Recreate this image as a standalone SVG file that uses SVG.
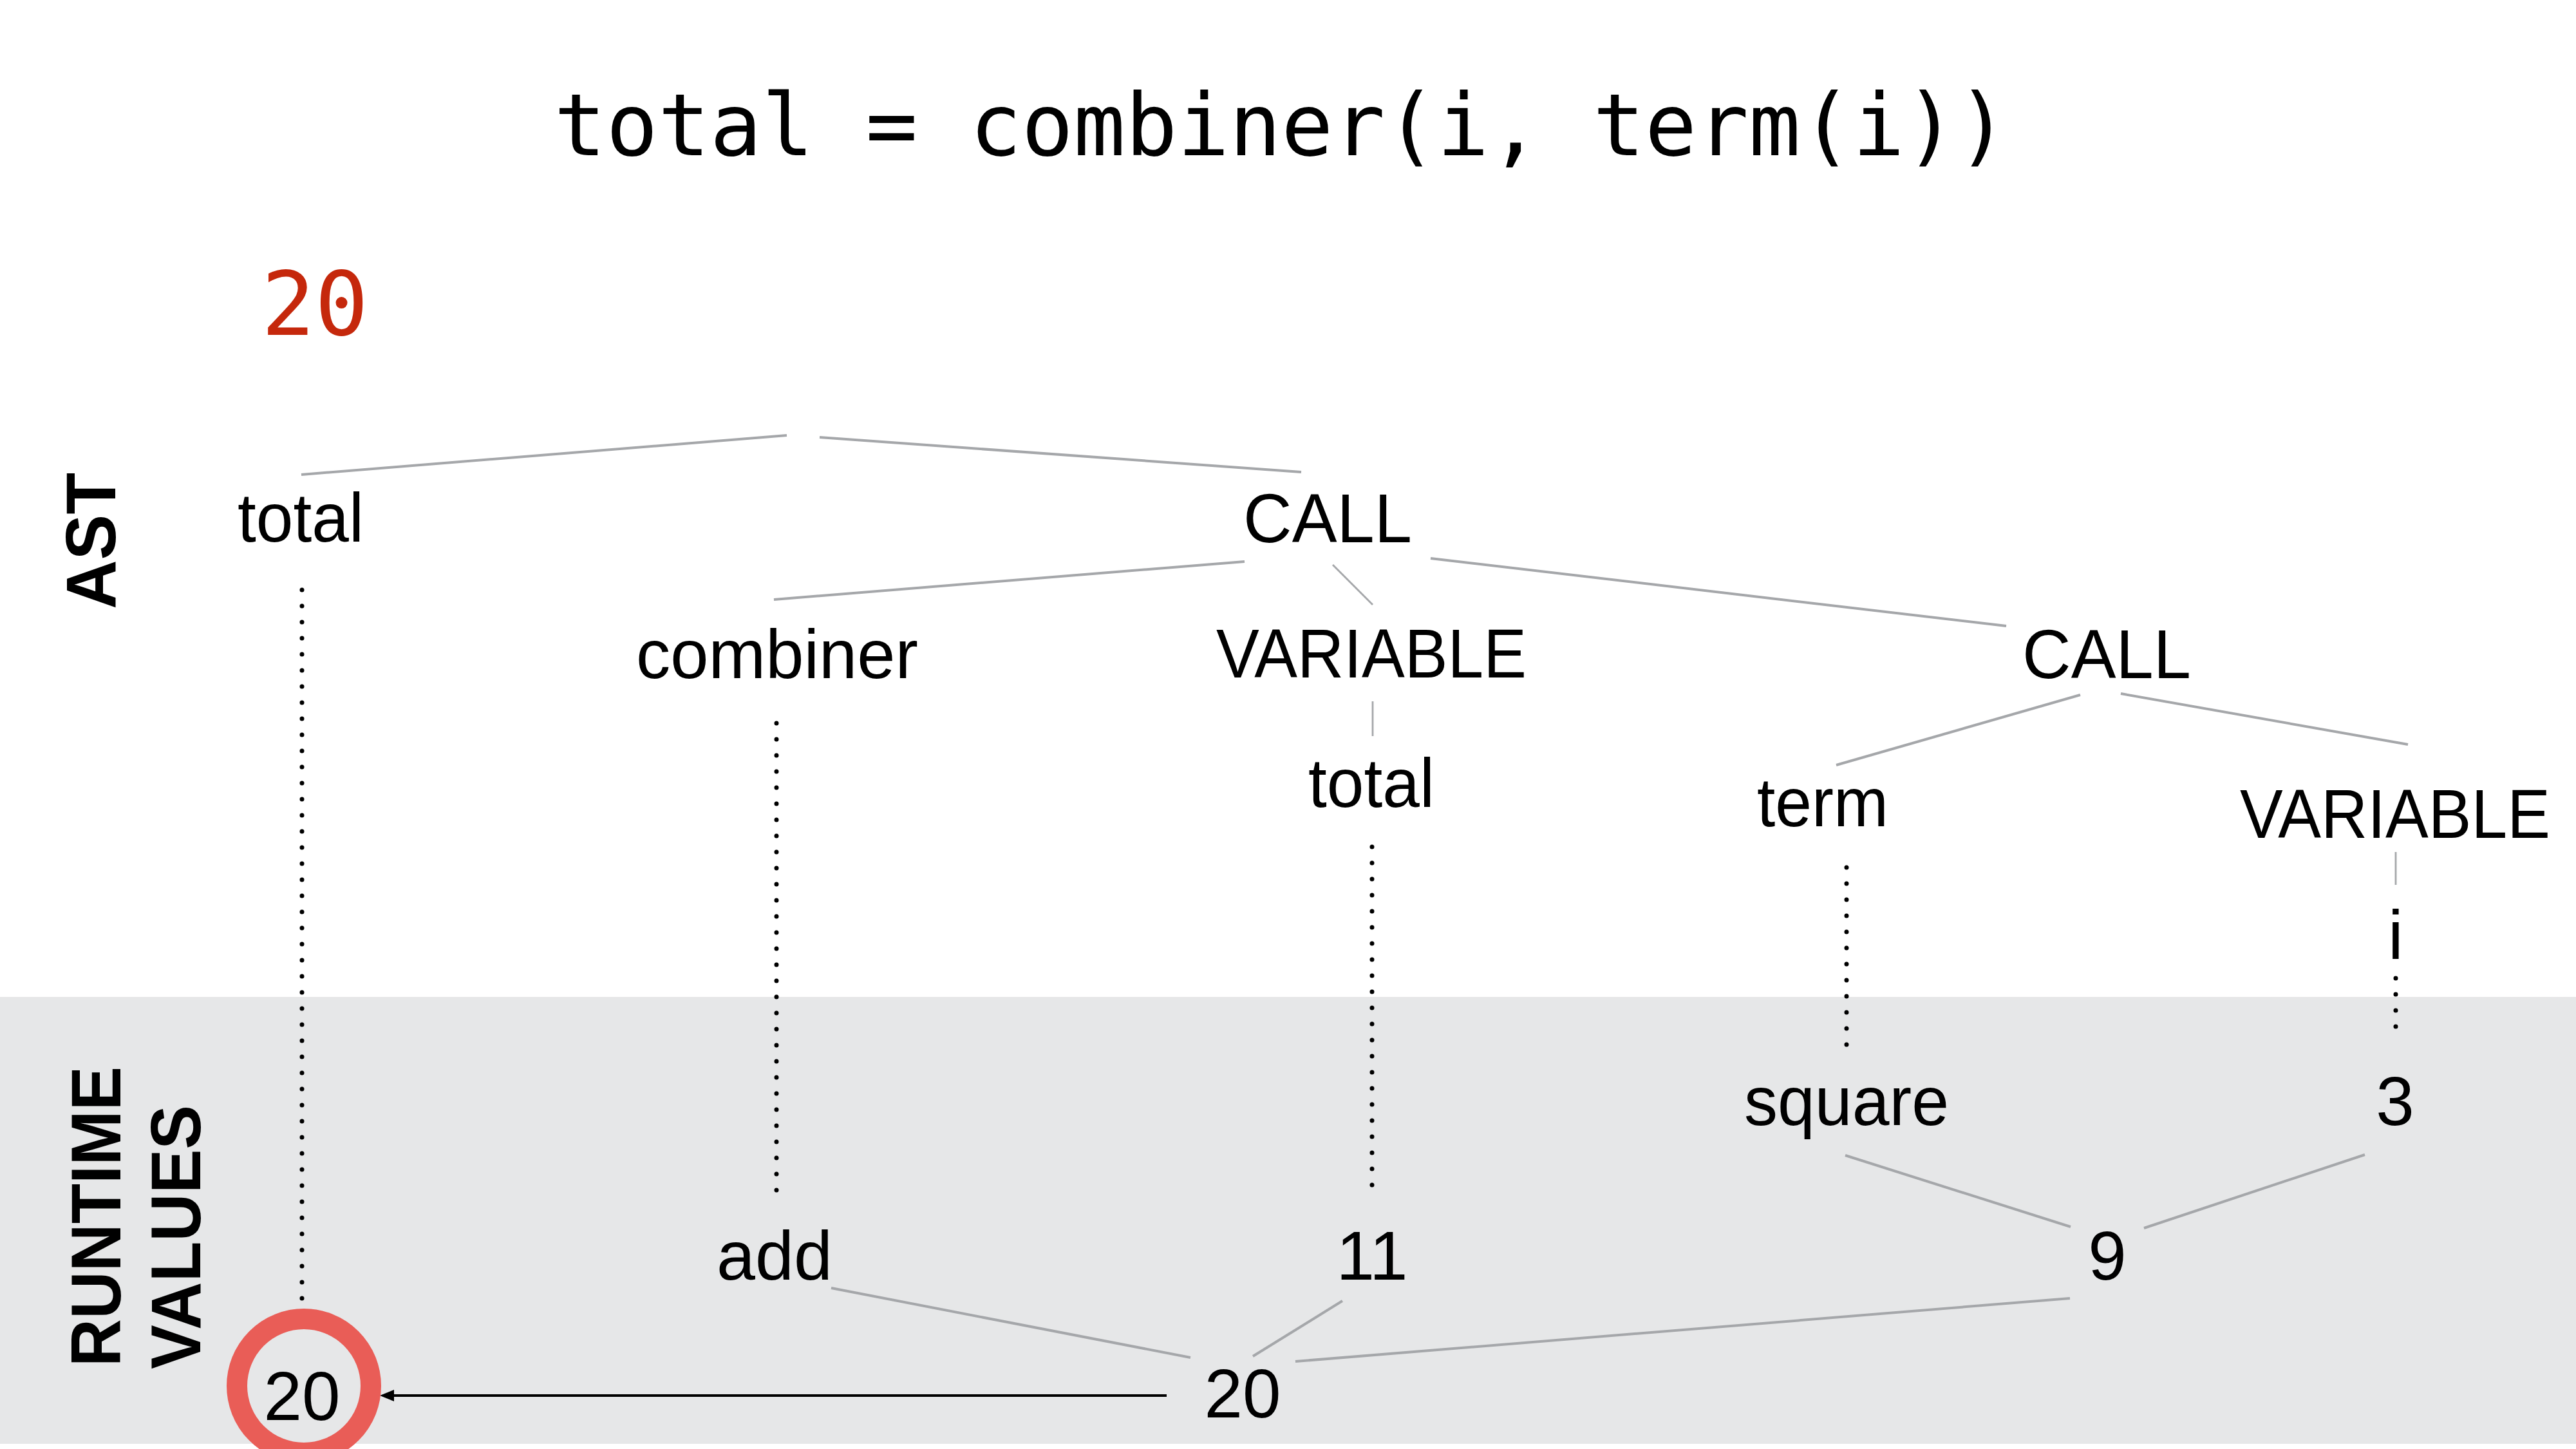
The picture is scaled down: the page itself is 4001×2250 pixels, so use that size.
<svg xmlns="http://www.w3.org/2000/svg" width="4001" height="2250" viewBox="0 0 4001 2250">
  <style>
    .code { font-family: "DejaVu Sans Mono", "Liberation Mono", monospace; font-size: 134px; fill: #000; }
    .result { font-family: "DejaVu Sans Mono", "Liberation Mono", monospace; font-size: 138px; fill: #C5280C; text-anchor: middle; }
    .n { font-family: "Liberation Sans", Arial, Helvetica, sans-serif; font-size: 107px; fill: #000; text-anchor: middle; }
    .axis { font-family: "Liberation Sans", Arial, Helvetica, sans-serif; font-size: 110px; font-weight: bold; fill: #000; }
    .edge { stroke: #A5A7AA; stroke-width: 4; fill: none; }
    .edge-thin { stroke: #A5A7AA; stroke-width: 2.8; fill: none; }
    .dots { stroke: #000; stroke-width: 7; stroke-linecap: round; stroke-dasharray: 0 25; fill: none; }
  </style>
  <defs>
    <marker id="arrowhead" viewBox="0 0 22 18" refX="12" refY="9" markerWidth="22" markerHeight="18" markerUnits="userSpaceOnUse" orient="auto">
      <path d="M0,0 L22,9 L0,18 z" fill="#000"/>
    </marker>
  </defs>

  <!-- background -->
  <rect x="0" y="0" width="4001" height="2250" fill="#fff"/>
  <!-- runtime values band -->
  <rect id="runtime-band" x="0" y="1548" width="4001" height="694" fill="#E6E7E8"/>

  <!-- source line -->
  <text id="source" class="code" x="1990" y="241" text-anchor="middle">total = combiner(i, term(i))</text>
  <text id="result" class="result" x="489" y="520">20</text>

  <!-- section labels -->
  <text id="label-ast" class="axis" transform="translate(179,840) rotate(-90)" text-anchor="middle" textLength="212" lengthAdjust="spacingAndGlyphs">AST</text>
  <text id="label-runtime" class="axis" transform="translate(187,2122) rotate(-90)" textLength="466" lengthAdjust="spacingAndGlyphs">RUNTIME</text>
  <text id="label-values" class="axis" transform="translate(311,2126) rotate(-90)" textLength="410" lengthAdjust="spacingAndGlyphs">VALUES</text>

  <!-- connectors -->
  <g id="connectors">
    <!-- AST edges -->
    <line class="edge" x1="468" y1="737" x2="1222" y2="676"/>
    <line class="edge" x1="1273" y1="679" x2="2021" y2="733"/>
    <line class="edge" x1="1933" y1="872" x2="1202" y2="931"/>
    <line class="edge-thin" x1="2070" y1="877" x2="2132" y2="939"/>
    <line class="edge" x1="2222" y1="867" x2="3116" y2="972"/>
    <line class="edge-thin" x1="2132" y1="1089" x2="2132" y2="1143"/>
    <line class="edge" x1="3231" y1="1079" x2="2852" y2="1188"/>
    <line class="edge" x1="3294" y1="1077" x2="3740" y2="1156"/>
    <line class="edge-thin" x1="3721" y1="1323" x2="3721" y2="1374"/>

    <!-- AST node to runtime value -->
    <line class="dots" x1="469" y1="916" x2="469" y2="2018"/>
    <line class="dots" x1="1206" y1="1123" x2="1206" y2="1850"/>
    <line class="dots" x1="2131" y1="1315" x2="2131" y2="1842"/>
    <line class="dots" x1="2868" y1="1347" x2="2868" y2="1624"/>
    <line class="dots" x1="3721" y1="1519" x2="3721" y2="1596"/>

    <!-- runtime value edges -->
    <line class="edge" x1="2866" y1="1794" x2="3216" y2="1905"/>
    <line class="edge" x1="3673" y1="1793" x2="3330" y2="1907"/>
    <line class="edge" x1="1291" y1="2000" x2="1849" y2="2108"/>
    <line class="edge" x1="2085" y1="2020" x2="1946" y2="2106"/>
    <line class="edge" x1="3215" y1="2016" x2="2012" y2="2114"/>

    <!-- result assignment -->
    <line x1="1812" y1="2167" x2="600" y2="2167" stroke="#000" stroke-width="4" marker-end="url(#arrowhead)"/>
  </g>

  <!-- AST nodes -->
  <g id="ast-total"><text class="n" x="467" y="841" textLength="196" lengthAdjust="spacingAndGlyphs">total</text></g>
  <g id="ast-call"><text class="n" x="2062" y="842" textLength="262" lengthAdjust="spacingAndGlyphs">CALL</text></g>
  <g id="ast-combiner"><text class="n" x="1207" y="1053" textLength="438" lengthAdjust="spacingAndGlyphs">combiner</text></g>
  <g id="ast-variable-total"><text class="n" x="2130" y="1052" textLength="482" lengthAdjust="spacingAndGlyphs">VARIABLE</text></g>
  <g id="ast-call-term"><text class="n" x="3272" y="1053" textLength="262" lengthAdjust="spacingAndGlyphs">CALL</text></g>
  <g id="ast-total-name"><text class="n" x="2130" y="1253" textLength="196" lengthAdjust="spacingAndGlyphs">total</text></g>
  <g id="ast-term"><text class="n" x="2831" y="1283" textLength="204" lengthAdjust="spacingAndGlyphs">term</text></g>
  <g id="ast-variable-i"><text class="n" x="3720" y="1301" textLength="482" lengthAdjust="spacingAndGlyphs">VARIABLE</text></g>
  <g id="ast-i"><text class="n" x="3721" y="1489">i</text></g>

  <!-- runtime value nodes -->
  <g id="val-square"><text class="n" x="2868" y="1747" textLength="318" lengthAdjust="spacingAndGlyphs">square</text></g>
  <g id="val-3"><text class="n" x="3720" y="1747">3</text></g>
  <g id="val-9"><text class="n" x="3273" y="1987">9</text></g>
  <g id="val-add"><text class="n" x="1203" y="1987" textLength="180" lengthAdjust="spacingAndGlyphs">add</text></g>
  <g id="val-11"><text class="n" x="2131" y="1987">11</text></g>
  <g id="val-20"><text class="n" x="1930" y="2201">20</text></g>
  <g id="val-total">
    <circle cx="472" cy="2152" r="104" fill="none" stroke="#E95D57" stroke-width="32"/>
    <text class="n" x="469" y="2205">20</text>
  </g>
</svg>
